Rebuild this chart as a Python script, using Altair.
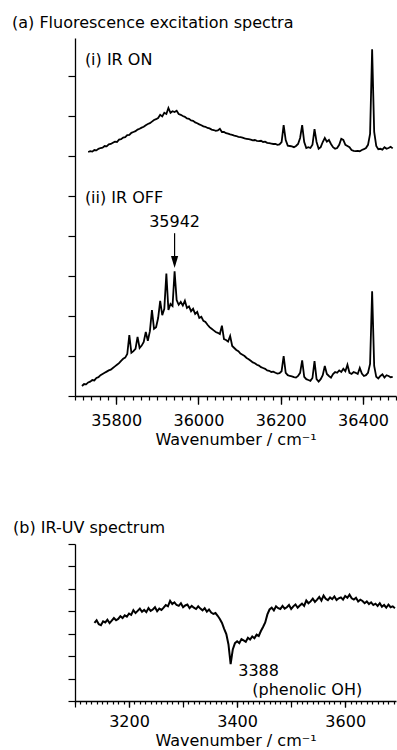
import altair as alt
import pandas as pd

FONT = "DejaVu Sans"
FS = 16

# ---- (a) fluorescence excitation spectra, sampled every 5 cm-1 ----
ir_on_start = 35732
ir_on = [
    6.10, 6.12, 6.11, 6.15, 6.14, 6.18, 6.20, 6.21, 6.25, 6.24,
    6.29, 6.30, 6.33, 6.36, 6.35, 6.41, 6.42, 6.46, 6.47, 6.52,
    6.53, 6.58, 6.60, 6.62, 6.66, 6.68, 6.71, 6.73, 6.77, 6.80,
    6.82, 6.86, 6.90, 6.92, 6.95, 7.03, 6.99, 7.08, 7.05, 7.20,
    7.08, 7.12, 7.10, 7.13, 7.05, 7.03, 7.00, 6.98, 6.94, 6.93,
    6.89, 6.88, 6.84, 6.82, 6.79, 6.77, 6.74, 6.73, 6.70, 6.69,
    6.66, 6.65, 6.63, 6.64, 6.68, 6.60, 6.60, 6.57, 6.56, 6.54,
    6.53, 6.51, 6.50, 6.48, 6.47, 6.46, 6.44, 6.43, 6.42, 6.41,
    6.39, 6.40, 6.38, 6.37, 6.38, 6.35, 6.36, 6.33, 6.32, 6.31,
    6.30, 6.30, 6.28, 6.29, 6.35, 6.77, 6.40, 6.26, 6.25, 6.24,
    6.22, 6.25, 6.30, 6.45, 6.77, 6.35, 6.20, 6.22, 6.20, 6.28,
    6.67, 6.35, 6.18, 6.22, 6.35, 6.45, 6.36, 6.40, 6.30, 6.22,
    6.18, 6.20, 6.28, 6.43, 6.40, 6.28, 6.25, 6.22, 6.15, 6.13,
    6.12, 6.13, 6.12, 6.15, 6.17, 6.20, 6.28, 6.55, 8.67, 6.60,
    6.25, 6.17, 6.18, 6.16, 6.22, 6.18, 6.20, 6.23, 6.19,
]

ir_off_start = 35717
ir_off = [
    0.25, 0.30, 0.29, 0.34, 0.36, 0.40, 0.39, 0.45, 0.47, 0.52,
    0.55, 0.58, 0.61, 0.64, 0.66, 0.70, 0.74, 0.78, 0.82, 0.88,
    0.93, 0.96, 1.05, 1.52, 1.08, 1.12, 1.18, 1.48, 1.20, 1.26,
    1.35, 1.60, 1.38, 1.62, 2.15, 1.68, 1.72, 1.95, 2.38, 2.02,
    2.18, 3.06, 2.15, 2.30, 2.25, 3.12, 2.40, 2.28, 2.35, 2.26,
    2.38, 2.20, 2.24, 2.12, 2.18, 2.05, 2.10, 1.95, 1.98, 1.88,
    1.85, 1.78, 1.72, 1.68, 1.64, 1.60, 1.58, 1.55, 1.76, 1.42,
    1.40, 1.36, 1.50, 1.25, 1.20, 1.15, 1.12, 1.06, 1.03, 1.00,
    0.95, 0.92, 0.88, 0.84, 0.82, 0.78, 0.76, 0.72, 0.70, 0.68,
    0.64, 0.63, 0.60, 0.61, 0.58, 0.56, 0.57, 0.62, 1.00, 0.58,
    0.52, 0.50, 0.49, 0.47, 0.46, 0.50, 0.58, 0.89, 0.48, 0.42,
    0.40, 0.38, 0.45, 0.87, 0.42, 0.36, 0.42, 0.52, 0.75, 0.55,
    0.50, 0.46, 0.55, 0.60, 0.58, 0.64, 0.60, 0.68, 0.62, 0.78,
    0.58, 0.55, 0.60, 0.58, 0.55, 0.70, 0.56, 0.50, 0.52, 0.58,
    0.80, 2.62, 0.75, 0.48, 0.44, 0.50, 0.54, 0.46, 0.52, 0.50,
    0.47, 0.48,
]
step_a = 5

# panel labels and the marked band
a_text_wn = [35724, 35724]
a_text_y = [8.4, 4.95]
a_text = ["(i) IR ON", "(ii) IR OFF"]
peak_wn = 35942
peak_label_y = 4.35
arrow_top, arrow_bottom, arrow_head = 4.07, 3.45, 3.35

# ---- (b) IR-UV spectrum, sampled every 4 cm-1 ----
iruv_start = 3136
step_b = 4
iruv = [
    3.48, 3.60, 3.42, 3.38, 3.55, 3.50, 3.62, 3.47, 3.58, 3.70,
    3.60, 3.66, 3.78, 3.70, 3.82, 3.76, 3.90, 3.84, 4.05, 3.92,
    4.02, 4.12, 3.98, 4.06, 3.96, 4.14, 4.02, 4.08, 4.18, 4.00,
    4.12, 4.06, 4.16, 4.28, 4.22, 4.46, 4.32, 4.40, 4.28, 4.24,
    4.36, 4.18, 4.26, 4.30, 4.14, 4.24, 4.16, 4.10, 4.22, 4.12,
    4.04, 4.14, 3.98, 4.08, 3.94, 3.88, 3.92, 3.80, 3.66, 3.48,
    3.22, 2.98, 2.52, 1.64, 2.30, 2.58, 2.66, 2.58, 2.76, 2.70,
    2.64, 2.82, 2.74, 2.88, 2.80, 2.96, 2.90, 3.12, 3.30, 3.50,
    3.86, 4.08, 4.16, 4.04, 4.22, 4.14, 4.10, 4.24, 4.12, 4.18,
    4.28, 4.10, 4.22, 4.30, 4.16, 4.26, 4.34, 4.24, 4.48, 4.36,
    4.44, 4.56, 4.42, 4.52, 4.64, 4.48, 4.70, 4.56, 4.50, 4.62,
    4.54, 4.66, 4.50, 4.58, 4.62, 4.52, 4.68, 4.60, 4.74, 4.58,
    4.52, 4.60, 4.44, 4.52, 4.46, 4.36, 4.44, 4.32, 4.40, 4.28,
    4.34, 4.24, 4.36, 4.20, 4.28, 4.16, 4.30, 4.18, 4.22, 4.14,
]
b_text_wn = [3402, 3428]
b_text_y = [1.34, 0.49]
b_text = ["3388", "(phenolic OH)"]

# ---------------------------------------------------------------
spec_a = pd.concat([
    pd.DataFrame({"wn": [ir_on_start + step_a * i for i in range(len(ir_on))],
                  "I": ir_on, "trace": "on"}),
    pd.DataFrame({"wn": [ir_off_start + step_a * i for i in range(len(ir_off))],
                  "I": ir_off, "trace": "off"}),
])
labels_a = pd.DataFrame({"wn": a_text_wn, "I": a_text_y, "t": a_text})
peak_a = pd.DataFrame({"wn": [peak_wn], "t": [str(peak_wn)], "ly": [peak_label_y],
                       "y1": [arrow_top], "y2": [arrow_bottom], "yh": [arrow_head]})

spec_b = pd.DataFrame({"wn": [iruv_start + step_b * i for i in range(len(iruv))], "I": iruv})
labels_b = pd.DataFrame({"wn": b_text_wn, "I": b_text_y, "t": b_text})

XTITLE = "Wavenumber / cm\u207b\u00b9"


def grid_values(lo, hi, step):
    first = lo + (-lo) % step
    return list(range(first, hi + 1, step))


def build_panel(spec, extra_layers, x_dom, y_dom, y_ticks, major, minor, label_step,
                major_len, minor_len, label_pad, title_pad, w, h, title,
                stroke=1.8, detail=None):
    xs = alt.Scale(domain=x_dom, nice=False, zero=False)
    ys = alt.Scale(domain=y_dom, nice=False, zero=False)
    label_axis = alt.Axis(
        values=grid_values(x_dom[0], x_dom[1], label_step),
        format="d", tickSize=major_len, labelPadding=label_pad, labelOverlap=False,
        labelFlush=False, titlePadding=title_pad, title=XTITLE, orient="bottom")
    minor_axis = alt.Axis(
        values=grid_values(x_dom[0], x_dom[1], minor),
        tickSize=minor_len, labels=False, domain=False, title=None, orient="bottom")
    major_axis = alt.Axis(
        values=grid_values(x_dom[0], x_dom[1], major),
        tickSize=major_len, labels=False, domain=False, title=None, orient="bottom")
    y_axis = alt.Axis(values=y_ticks, labels=False, tickSize=7, title=None, orient="left")

    enc = dict(x=alt.X("wn:Q", scale=xs, axis=label_axis),
               y=alt.Y("I:Q", scale=ys, axis=y_axis))
    if detail:
        enc["detail"] = detail
    line = alt.Chart(spec).mark_line(color="black", strokeWidth=stroke, clip=True).encode(**enc)
    minor_ticks = alt.Chart(spec).mark_line(opacity=0).encode(
        x=alt.X("wn:Q", scale=xs, axis=minor_axis), y=alt.Y("I:Q", scale=ys, axis=None))
    major_ticks = alt.Chart(spec).mark_line(opacity=0).encode(
        x=alt.X("wn:Q", scale=xs, axis=major_axis), y=alt.Y("I:Q", scale=ys, axis=None))
    layers = [line, minor_ticks, major_ticks] + [lay(xs, ys) for lay in extra_layers]
    return alt.layer(*layers).resolve_axis(x="independent", y="independent").properties(
        width=w, height=h, title=title)


def text_layer(df, align, ycol="I"):
    def make(xs, ys):
        return alt.Chart(df).mark_text(
            align=align, baseline="middle", font=FONT, fontSize=FS, color="black").encode(
            x=alt.X("wn:Q", scale=xs, axis=None), y=alt.Y(f"{ycol}:Q", scale=ys, axis=None),
            text="t:N")
    return make


def arrow_shaft(xs, ys):
    return alt.Chart(peak_a).mark_rule(color="black", strokeWidth=1.2).encode(
        x=alt.X("wn:Q", scale=xs, axis=None), y=alt.Y("y1:Q", scale=ys, axis=None), y2="y2:Q")


def arrow_head_layer(xs, ys):
    return alt.Chart(peak_a).mark_point(
        shape="M-0.6,-1L0.6,-1L0,1Z", filled=True, size=144, color="black", opacity=1).encode(
        x=alt.X("wn:Q", scale=xs, axis=None), y=alt.Y("yh:Q", scale=ys, axis=None))


def title_params(text, dx):
    return alt.TitleParams(text, anchor="start", frame="group", dx=dx, offset=7,
                           font=FONT, fontSize=FS, fontWeight="normal", color="black")


panel_a = build_panel(
    spec_a,
    [text_layer(labels_a, "left"), text_layer(peak_a, "center", "ly"), arrow_shaft, arrow_head_layer],
    [35700, 36480], [0, 8.95], list(range(0, 9)),
    major=200, minor=20, label_step=200, major_len=8, minor_len=4,
    label_pad=8, title_pad=3,
    w=321, h=358, title=title_params("(a) Fluorescence excitation spectra", -63),
    detail="trace:N")

panel_b = build_panel(
    spec_b, [text_layer(labels_b, "left")],
    [3100, 3694], [0, 7], list(range(0, 8)),
    major=100, minor=10, label_step=200, major_len=6, minor_len=3,
    label_pad=6, title_pad=3,
    w=321, h=157, title=title_params("(b) IR-UV spectrum", -62), stroke=2.0)

chart = alt.vconcat(panel_a, panel_b, spacing=73).properties(
    padding={"left": 12, "top": 15, "right": 0, "bottom": 0},
).configure_view(stroke=None).configure_axis(
    grid=False,
    domainColor="black", domainWidth=1.3,
    tickColor="black", tickWidth=1.2,
    labelFont=FONT, labelFontSize=FS, labelColor="black",
    titleFont=FONT, titleFontSize=FS, titleFontWeight="normal", titleColor="black",
)

chart.save("out.html", embed_options={"renderer": "svg", "actions": False})
